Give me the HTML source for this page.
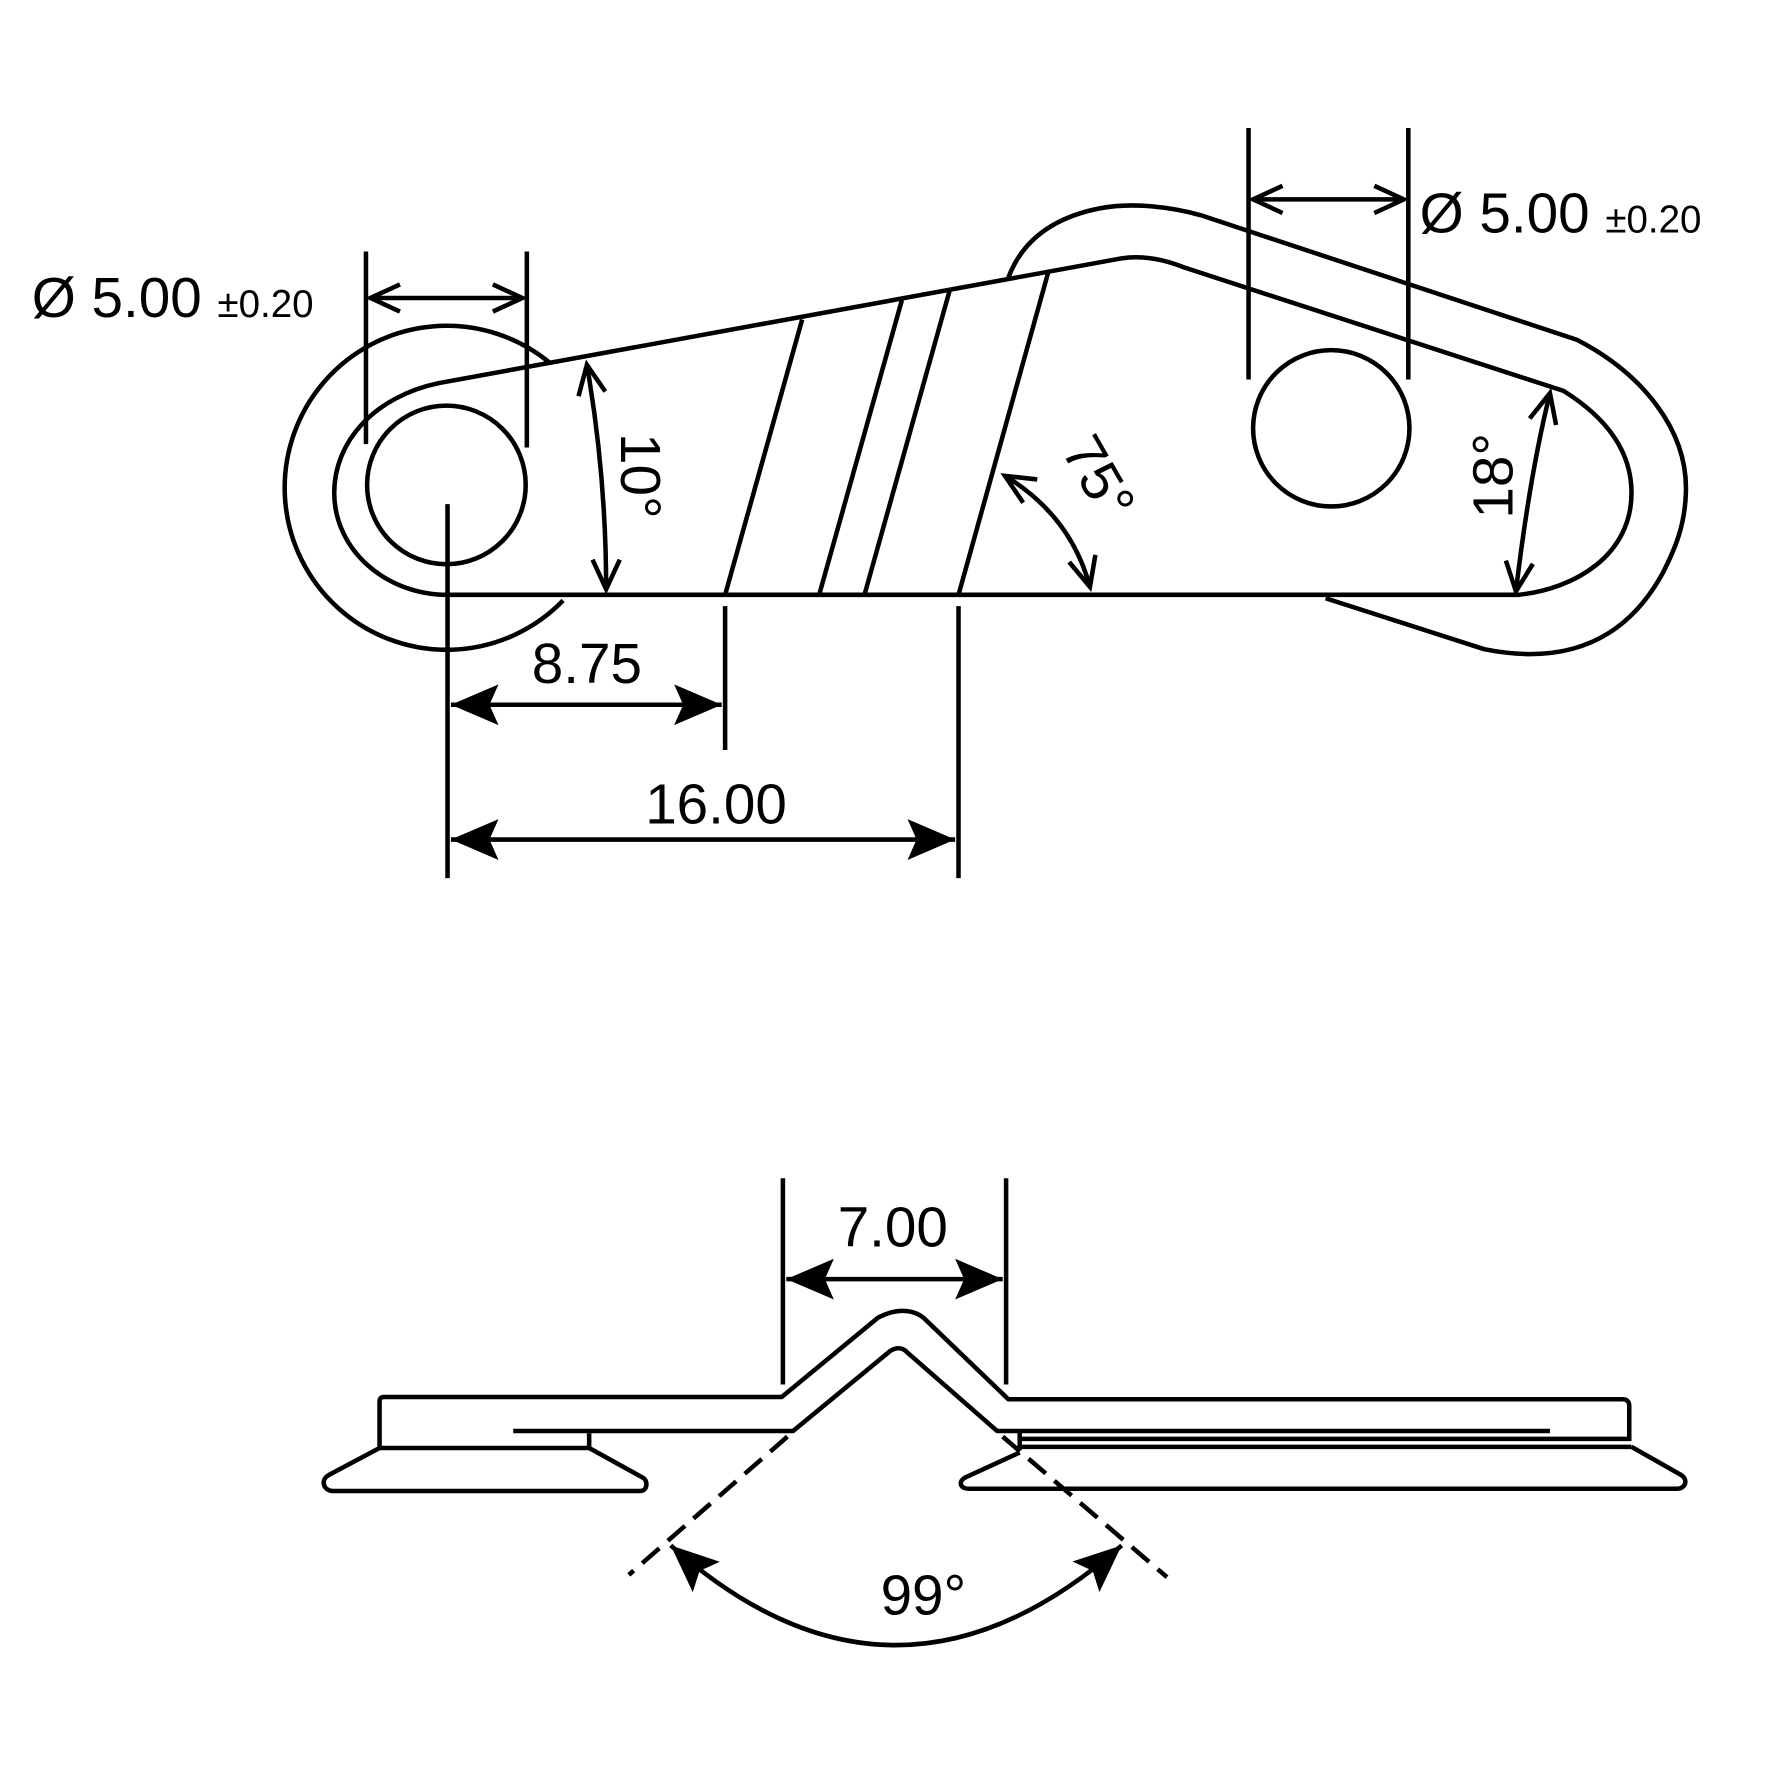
<!DOCTYPE html>
<html><head><style>html,body{margin:0;padding:0;background:#fff}svg{display:block}</style></head><body>
<svg width="1772" height="1772" viewBox="0 0 1564 1564" xmlns="http://www.w3.org/2000/svg" font-family="Liberation Sans, sans-serif">
<defs>
<marker id="fa" markerUnits="userSpaceOnUse" markerWidth="50" markerHeight="50" viewBox="-45 -25 50 50" refX="0" refY="0" orient="auto-start-reverse"><path d="M0 0 L-42 -18 L-34 0 L-42 18 Z" fill="#000"/></marker>
<marker id="oa" markerUnits="userSpaceOnUse" markerWidth="40" markerHeight="40" viewBox="-30 -20 40 40" refX="0" refY="0" orient="auto-start-reverse"><path d="M-26 -12 L0 0 L-26 12" fill="none" stroke="#000" stroke-width="4"/></marker>
</defs>
<g fill="none" stroke="#000" stroke-width="4" stroke-linejoin="round">
<path d="M485 320 A143 143 0 1 0 497 530"/>
<path d="M388 338 C330 350 295 390 295 435 C295 485 340 525 395 525 L1340 525 C1390 520 1440 490 1440 435 C1440 400 1420 370 1380 345 L1045 236 C1030 230 1010 225 990 228 Z"/>
<circle cx="394" cy="428" r="70"/>
<circle cx="1175" cy="378" r="69"/>
<path d="M890 245 C905 205 940 190 970 184 C1000 178 1035 183 1060 190 L1392 300 C1450 330 1490 380 1488 435 C1487 465 1478 485 1468 505 C1430 575 1370 585 1310 573 L1170 528"/>
<path d="M708 282 L640 525 M796 265 L723 525 M838 257 L763 525 M925 241 L846 525"/>
<path d="M323 222 V392 M465 222 V395 M1102 113 V335 M1243 113 V335 M395 445 V775 M640 535 V662 M846 535 V775"/>
<path d="M327 263 H461" marker-start="url(#oa)" marker-end="url(#oa)"/>
<path d="M1106 176 H1239" marker-start="url(#oa)" marker-end="url(#oa)"/>
<path d="M398 622 H637" marker-start="url(#fa)" marker-end="url(#fa)"/>
<path d="M398 741 H843" marker-start="url(#fa)" marker-end="url(#fa)"/>
<path d="M518 322 Q535 420 535 520" marker-start="url(#oa)" marker-end="url(#oa)"/>
<path d="M887 420 Q945 455 962 518" marker-start="url(#oa)" marker-end="url(#oa)"/>
<path d="M1368 347 Q1350 420 1338 522" marker-start="url(#oa)" marker-end="url(#oa)"/>
<path d="M335 1278 V1237 Q335 1233 339 1233 L690 1233 L775 1163 C790 1155 805 1155 815 1163 L890 1235 L1432 1235 Q1438 1235 1438 1241 L1438 1270"/>
<path d="M335 1278 L520 1278 L520 1265"/>
<path d="M335 1278 L290 1302 C283 1306 285 1315 293 1316 L565 1316 C572 1316 572 1306 567 1304 L520 1278"/>
<path d="M453 1263 L700 1263 L785 1193 C790 1189 796 1189 800 1193 L880 1263 L900 1263"/>
<path d="M900 1263 H1368 M900 1270 H1440 M900 1277 H1440 M900 1263 V1280"/>
<path d="M1440 1277 L1484 1302 C1490 1306 1488 1314 1480 1314 L855 1314 C848 1314 845 1308 852 1304 L900 1282"/>
<path d="M691 1040 V1222 M888 1040 V1222"/>
<path d="M694 1129 H885" marker-start="url(#fa)" marker-end="url(#fa)"/>
<path d="M695 1268 L555 1390 M885 1268 L1030 1392" stroke-dasharray="20 10"/>
<path d="M592 1364 Q790 1540 990 1364" marker-start="url(#fa)" marker-end="url(#fa)"/>
</g>
<g fill="#000">
<text x="28" y="280" font-size="50">Ø 5.00 <tspan font-size="34">±0.20</tspan></text>
<text x="1253" y="205" font-size="50">Ø 5.00 <tspan font-size="34">±0.20</tspan></text>
<text x="518" y="603" font-size="50" text-anchor="middle">8.75</text>
<text x="632" y="727" font-size="50" text-anchor="middle">16.00</text>
<text x="788" y="1100" font-size="50" text-anchor="middle">7.00</text>
<text x="815" y="1425" font-size="50" text-anchor="middle">99°</text>
<text transform="translate(548,420) rotate(90)" font-size="50" text-anchor="middle">10°</text>
<text transform="translate(955,430) rotate(60)" font-size="50" text-anchor="middle">75°</text>
<text transform="translate(1335,420) rotate(-90)" font-size="50" text-anchor="middle">18°</text>
</g>
</svg>
</body></html>
